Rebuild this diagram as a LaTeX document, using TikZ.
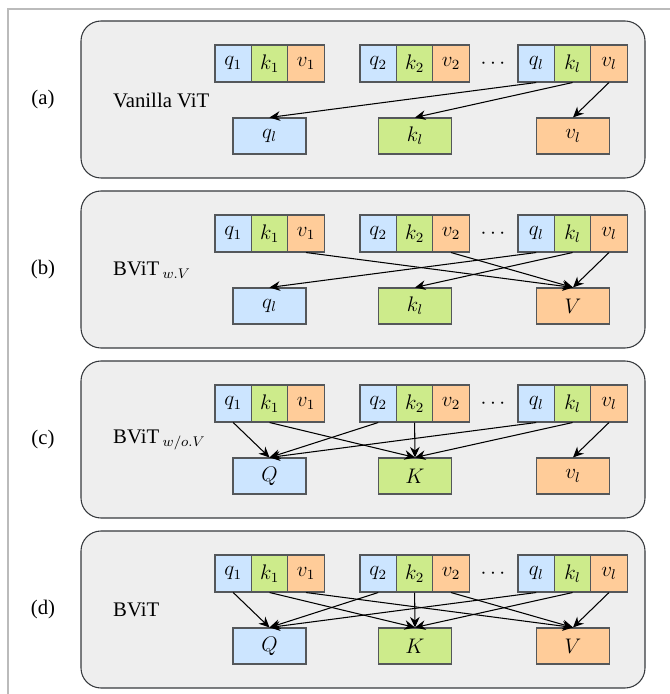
\documentclass[tikz,border=0pt]{standalone}
\usepackage{fontspec}
\setmainfont{Liberation Serif}
\usetikzlibrary{arrows.meta}
\definecolor{qblue}{HTML}{CCE5FF}
\definecolor{kgreen}{HTML}{CDEB8B}
\definecolor{vorange}{HTML}{FFCC99}
\definecolor{edgegray}{HTML}{36393D}
\definecolor{panelgray}{HTML}{EEEEEE}
\definecolor{framegray}{HTML}{BBBBBB}
\tikzset{
  panel/.style={draw=edgegray, fill=panelgray, line width=0.6pt, rounded corners=0.4cm,
    minimum width=11.28cm, minimum height=3.14cm},
  cell/.style={draw=edgegray!85, line width=0.6pt, minimum width=0.728cm,
    minimum height=0.74cm, inner sep=0pt, font=\fontsize{12}{14}\selectfont},
  qcell/.style={cell, fill=qblue},
  kcell/.style={cell, fill=kgreen},
  vcell/.style={cell, fill=vorange},
  outbox/.style={cell, minimum width=1.46cm, minimum height=0.72cm},
  arr/.style={->, line width=0.6pt}
}
% one row of q,k,v tokens: #1 = name prefix, #2 = y
\newcommand{\tokenrow}[2]{
  \node[qcell] (#1q1) at (4.664,#2) {$q_1$};
  \node[kcell] (#1k1) at (5.392,#2) {$k_1$};
  \node[vcell] (#1v1) at (6.12,#2) {$v_1$};
  \node[qcell] (#1q2) at (7.564,#2) {$q_2$};
  \node[kcell] (#1k2) at (8.292,#2) {$k_2$};
  \node[vcell] (#1v2) at (9.02,#2) {$v_2$};
  \node[font=\fontsize{12}{14}\selectfont] (#1dots) at (9.86,#2) {$\cdots$};
  \node[qcell] (#1ql) at (10.724,#2) {$q_l$};
  \node[kcell] (#1kl) at (11.452,#2) {$k_l$};
  \node[vcell] (#1vl) at (12.18,#2) {$v_l$};
}

\begin{document}
\begin{tikzpicture}[>={Stealth[length=6pt,width=5.5pt]}, font=\fontsize{11.8}{14}\selectfont]
\useasboundingbox (0,0) rectangle (13.4,13.88);
\draw[framegray, line width=0.8pt] (0.16,0) -- (0.16,13.7) -- (13.4,13.7);

% (a)
\node[panel] (pa) at (7.26,11.89) {};
\node (la) at (0.86,11.88) {(a)};
\node[anchor=west] (ta) at (2.14,11.88) {Vanilla ViT};
\tokenrow{a}{12.61}
\node[outbox, fill=qblue] (aQ) at (5.39,11.16) {$q_l$};
\node[outbox, fill=kgreen] (aK) at (8.30,11.16) {$k_l$};
\node[outbox, fill=vorange] (aV) at (11.46,11.16) {$v_l$};
\draw[arr] (aql.south) -- (aQ.north);
\draw[arr] (akl.south) -- (aK.north);
\draw[arr] (avl.south) -- (aV.north);

% (b)
\node[panel] (pb) at (7.26,8.49) {};
\node (lb) at (0.86,8.48) {(b)};
\node[anchor=west] (tb) at (2.14,8.48) {BViT\,$_{w.V}$};
\tokenrow{b}{9.21}
\node[outbox, fill=qblue] (bQ) at (5.39,7.76) {$q_l$};
\node[outbox, fill=kgreen] (bK) at (8.30,7.76) {$k_l$};
\node[outbox, fill=vorange] (bV) at (11.46,7.76) {$V$};
\draw[arr] (bv1.south) -- (bV.north);
\draw[arr] (bv2.south) -- (bV.north);
\draw[arr] (bql.south) -- (bQ.north);
\draw[arr] (bkl.south) -- (bK.north);
\draw[arr] (bvl.south) -- (bV.north);

% (c)
\node[panel] (pc) at (7.26,5.09) {};
\node (lc) at (0.86,5.08) {(c)};
\node[anchor=west] (tc) at (2.14,5.08) {BViT\,$_{w/o.V}$};
\tokenrow{c}{5.81}
\node[outbox, fill=qblue] (cQ) at (5.39,4.36) {$Q$};
\node[outbox, fill=kgreen] (cK) at (8.30,4.36) {$K$};
\node[outbox, fill=vorange] (cV) at (11.46,4.36) {$v_l$};
\draw[arr] (cq1.south) -- (cQ.north);
\draw[arr] (ck1.south) -- (cK.north);
\draw[arr] (cq2.south) -- (cQ.north);
\draw[arr] (ck2.south) -- (cK.north);
\draw[arr] (cql.south) -- (cQ.north);
\draw[arr] (ckl.south) -- (cK.north);
\draw[arr] (cvl.south) -- (cV.north);

% (d)
\node[panel] (pd) at (7.26,1.69) {};
\node (ld) at (0.86,1.68) {(d)};
\node[anchor=west] (td) at (2.14,1.68) {BViT};
\tokenrow{d}{2.41}
\node[outbox, fill=qblue] (dQ) at (5.39,0.96) {$Q$};
\node[outbox, fill=kgreen] (dK) at (8.30,0.96) {$K$};
\node[outbox, fill=vorange] (dV) at (11.46,0.96) {$V$};
\draw[arr] (dq1.south) -- (dQ.north);
\draw[arr] (dk1.south) -- (dK.north);
\draw[arr] (dv1.south) -- (dV.north);
\draw[arr] (dq2.south) -- (dQ.north);
\draw[arr] (dk2.south) -- (dK.north);
\draw[arr] (dv2.south) -- (dV.north);
\draw[arr] (dql.south) -- (dQ.north);
\draw[arr] (dkl.south) -- (dK.north);
\draw[arr] (dvl.south) -- (dV.north);
\end{tikzpicture}
\end{document}
